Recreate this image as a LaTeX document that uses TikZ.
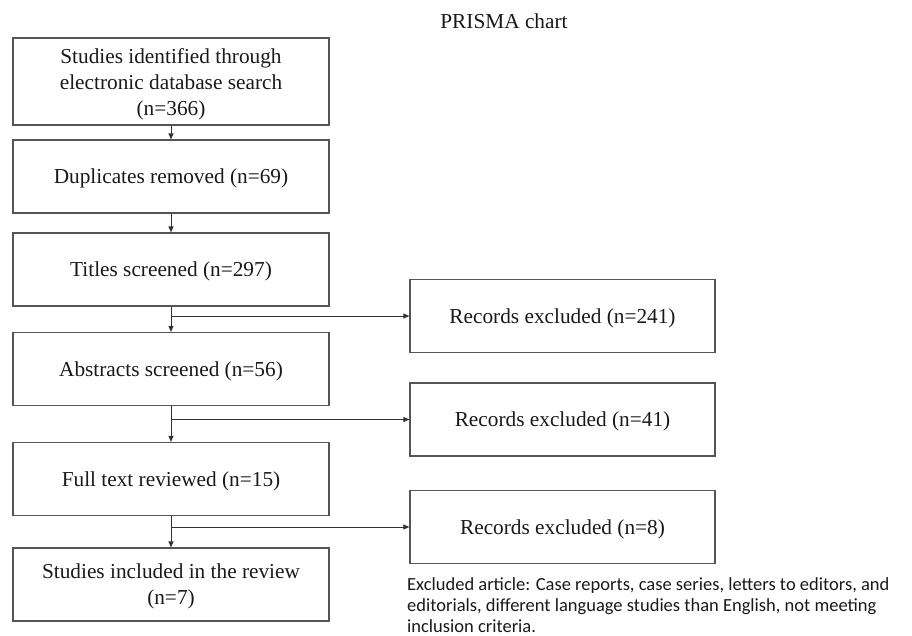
\documentclass[tikz,border=0pt]{standalone}
\usepackage{fontspec}
\setmainfont{Liberation Serif}
\newfontfamily\notefont{Carlito}
\usetikzlibrary{arrows.meta}
\definecolor{boxline}{HTML}{555555}
\definecolor{arrline}{HTML}{333333}
\tikzset{
  flowbox/.style={draw=boxline, line width=1.2pt, minimum width=316pt, minimum height=73pt,
    align=center, inner sep=2pt, text depth=-2pt, font=\fontsize{21.3}{26}\selectfont, text=black!90},
  exbox/.style={flowbox, minimum width=305pt},
  flowarrow/.style={draw=arrline, line width=0.9pt, -{Triangle[length=6pt,width=5pt]}},
  flowline/.style={draw=arrline, line width=0.9pt}
}
\begin{document}
\begin{tikzpicture}[x=1pt,y=-1pt]
\useasboundingbox (0,0) rectangle (912,635);
\node[font=\fontsize{21.3}{26}\selectfont, text=black!90] (title) at (504,21) {PRISMA chart};
\node[flowbox, minimum height=87pt] (b1) at (171,81.5) {Studies identified through\\electronic database search\\(n=366)};
\node[flowbox] (b2) at (171,176.5) {Duplicates removed (n=69)};
\node[flowbox] (b3) at (171,269.5) {Titles screened (n=297)};
\node[flowbox] (b4) at (171,369) {Abstracts screened (n=56)};
\node[flowbox] (b5) at (171,479) {Full text reviewed (n=15)};
\node[flowbox] (b6) at (171,584.5) {Studies included in the review\\(n=7)};
\node[exbox] (rA) at (562.5,316) {Records excluded (n=241)};
\node[exbox] (rB) at (562.5,419.5) {Records excluded (n=41)};
\node[exbox] (rC) at (562.5,527) {Records excluded (n=8)};
\node[anchor=north west, inner sep=0pt, align=left,
  font=\notefont\fontsize{18.5}{21}\selectfont, text=black!90] (note) at (407,577)
  {Excluded article: Case reports, case series, letters to editors, and\\editorials, different language studies than English, not meeting\\inclusion criteria.};
\draw[flowarrow] (b1.south) -- (b2.north);
\draw[flowarrow] (b2.south) -- (b3.north);
\draw[flowarrow] (b3.south) -- (b4.north);
\draw[flowarrow] (b4.south) -- (b5.north);
\draw[flowarrow] (b5.south) -- (b6.north);
\draw[flowarrow] (b3.south |- rA.west) -- (rA.west);
\draw[flowarrow] (b4.south |- rB.west) -- (rB.west);
\draw[flowarrow] (b5.south |- rC.west) -- (rC.west);
\end{tikzpicture}
\end{document}
